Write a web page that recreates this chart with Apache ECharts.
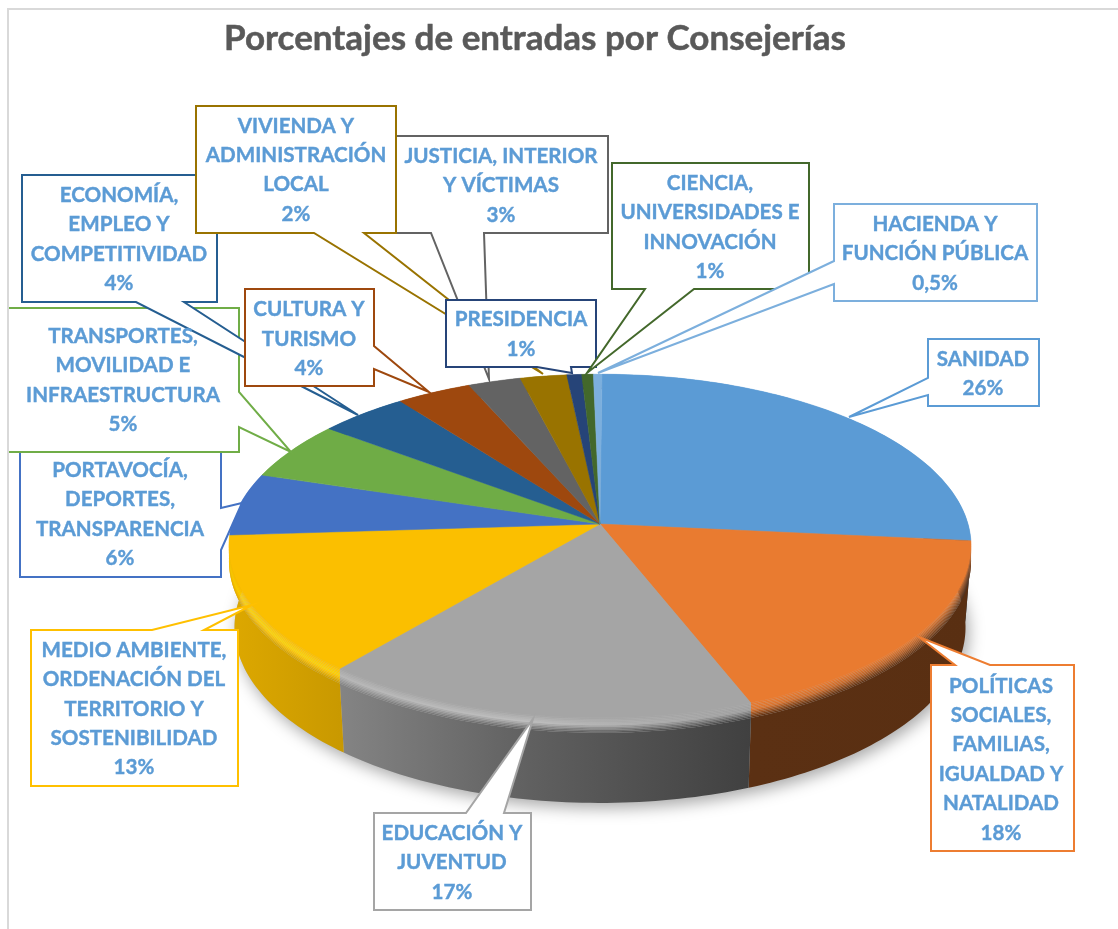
<!DOCTYPE html>
<html>
<head>
<meta charset="utf-8">
<style>html,body{margin:0;padding:0;background:#fff}#c{width:1118px;height:929px}</style>
<script src="https://cdn.jsdelivr.net/npm/echarts@6/dist/echarts.min.js"></script>
</head>
<body>
<div id="c"></div>
<script>
// ---- data ----
const titleText = 'Porcentajes de entradas por Consejerías';
const categories = ['SANIDAD','POLÍTICAS\nSOCIALES,\nFAMILIAS,\nIGUALDAD Y\nNATALIDAD','EDUCACIÓN Y\nJUVENTUD','MEDIO AMBIENTE,\nORDENACIÓN DEL\nTERRITORIO Y\nSOSTENIBILIDAD','PORTAVOCÍA,\nDEPORTES,\nTRANSPARENCIA','TRANSPORTES,\nMOVILIDAD E\nINFRAESTRUCTURA','ECONOMÍA,\nEMPLEO Y\nCOMPETITIVIDAD','CULTURA Y\nTURISMO','JUSTICIA, INTERIOR\nY VÍCTIMAS','VIVIENDA Y\nADMINISTRACIÓN\nLOCAL','PRESIDENCIA','CIENCIA,\nUNIVERSIDADES E\nINNOVACIÓN','HACIENDA Y\nFUNCIÓN PÚBLICA'];
const percentLabels = ['26%','18%','17%','13%','6%','5%','4%','4%','3%','2%','1%','1%','0,5%'];
const sliceShares = [26.5,17.6,16.9,13,5.9,5.55,4.4,3.7,2.6,2.3,0.73,0.57,0.42];

// ---- styles & layout ----
const sliceColors = ['#5B9BD5','#E97B30','#A5A5A5','#FBBF00','#4472C4','#6FAC46','#255E91','#9E480E','#636363','#997300','#264478','#43682B','#7CAFDD'];
const borderColors = ['#5B9BD5','#ED7D31','#A5A5A5','#FFC000','#4472C4','#70AD47','#255E91','#9E480E','#636363','#997300','#264478','#43682B','#7CAFDD'];
const calloutShapes = [
 [[928,339],[1039,339],[1039,406],[928,406],[928,395],[849,417],[928,378]],
 [[931,665],[955,665],[919,637],[990,665],[1074,665],[1074,851],[931,851]],
 [[374,813],[466,813],[533,719],[504,813],[531,813],[531,910],[374,910]],
 [[31,630],[152,630],[252,605],[204,630],[238,630],[238,786],[31,786]],
 [[20,447],[221,447],[221,508],[242,503],[221,550],[221,577],[20,577]],
 [[8,308],[239,308],[239,392],[291,452],[239,427],[239,452],[8,452]],
 [[22,175],[217,175],[217,302],[184,302],[358,415],[136,302],[22,302]],
 [[245,289],[374,289],[374,346],[429,392],[374,369],[374,386],[245,386]],
 [[394,136],[608,136],[608,233],[484,233],[489,379],[431,233],[394,233]],
 [[196,106],[396,106],[396,233],[364,233],[543,374],[314,233],[196,233]],
 [[446,300],[596,300],[596,367],[571,367],[572,373],[537,367],[446,367]],
 [[612,163],[809,163],[809,289],[694,289],[587,373],[645,289],[612,289]],
 [[834,204],[1037,204],[1037,301],[834,301],[834,284],[598,373],[834,261]]
];
const textCentres = [[983,374],[1001,759.5],[452,862.5],[134,709],[120,514.5],[123,380.5],[119,239.5],[309,339],[501,185.5],[296,170],[521,334.5],[710,227.5],[935,253.5]];

const CX = 600, CY = 524, RX = 368, RY = 169, P = 0.128;
const WALL_CY = 605, WALL_RX = 362.5, WALL_RY = 172.6, BEVEL = 15;
const total = sliceShares.reduce((a,b)=>a+b,0);
const TOP_ANGLE = 0.006;
const WALL_FROM = 1.2, WALL_TO = 4.95, WALL_SKIP = 4.6;

function proj(a, cy, rx, ry){
  const u = Math.sin(a), v = -Math.cos(a), w = 1 - P*v;
  return [CX + rx*u/w, cy + ry*v/w];
}
function arc(a0, a1, cy, rx, ry){
  const n = Math.max(2, Math.ceil(Math.abs(a1-a0)/0.02)), pts = [];
  for(let i=0;i<=n;i++) pts.push(proj(a0+(a1-a0)*i/n, cy, rx, ry));
  return pts;
}
function rgb(h){return [parseInt(h.slice(1,3),16),parseInt(h.slice(3,5),16),parseInt(h.slice(5,7),16)];}
function shade(h,f){const c=rgb(h).map(x=>Math.max(0,Math.min(255,Math.round(x*f))));return 'rgb('+c.join(',')+')';}
const XS=[230,340,530,752,975], WALLF=[0.88,0.80,0.58,0.39,0.38], HI=[1.12,1.1,1.15,0.95,0.7];
function gradient(stops){
  return {type:'linear',x:230,y:0,x2:975,y2:0,global:true,colorStops:stops.map((c,i)=>({offset:(XS[i]-230)/745,color:c}))};
}
function wallFill(c){return gradient(WALLF.map(f=>shade(c,f)));}
function bevelFill(c,t){
  return gradient(XS.map((_,i)=>{
    const f = t<0.45 ? 1+(HI[i]-1)*(t/0.45) : HI[i]+(WALLF[i]-HI[i])*((t-0.45)/0.55);
    return shade(c,f);
  }));
}

function renderSlice(params, api){
  const i = params.dataIndex, c = sliceColors[i];
  const a0 = TOP_ANGLE + api.value(1)/total*Math.PI*2;
  const a1 = a0 + api.value(0)/total*Math.PI*2;
  const ch = [];
  // side wall: only the part facing the viewer, the last slice runs on to the silhouette
  const w0 = Math.max(a0, WALL_FROM);
  const w1 = (a1 > WALL_SKIP && a1 < WALL_TO) ? WALL_TO : Math.min(a1, WALL_TO);
  if (w1 > w0 && a0 < WALL_SKIP){
    const wt = arc(w0,w1,CY+BEVEL,RX,RY), wb = arc(w1,w0,WALL_CY,WALL_RX,WALL_RY);
    ch.push({type:'polygon',z2:5,shape:{points:wt.concat(wb)},style:{fill:wallFill(c),stroke:null}});
  }
  // rounded bevel between wall and flat top
  const RINGS = 10;
  for(let r=RINGS;r>=1;r--){
    const t1=r/RINGS,t0=(r-1)/RINGS;
    const p1=arc(a0,a1,CY+BEVEL*t1,RX,RY), p0=arc(a1,a0,CY+BEVEL*t0,RX,RY);
    ch.push({type:'polygon',z2:20-r,shape:{points:p1.concat(p0)},style:{fill:bevelFill(c,(t0+t1)/2),stroke:null}});
  }
  // flat top
  ch.push({type:'polygon',z2:30,shape:{points:[[CX,CY]].concat(arc(a0,a1,CY,RX,RY))},style:{fill:c,stroke:c,lineWidth:0.5}});
  return {type:'group',children:ch};
}
function renderShadow(params, api){
  const pts = arc(0,Math.PI*2,WALL_CY,WALL_RX,WALL_RY);
  return {type:'polygon',shape:{points:pts},style:{fill:'#bbb',shadowColor:'rgba(0,0,0,0.35)',shadowBlur:16,shadowOffsetX:3,shadowOffsetY:5}};
}
function renderBox(params, api){
  const i = params.dataIndex;
  return {type:'polygon',shape:{points:calloutShapes[i]},style:{fill:'#fff',stroke:borderColors[i],lineWidth:2,lineJoin:'miter'}};
}
function renderText(params, api){
  const i = params.dataIndex, t = textCentres[i];
  return {type:'text',style:{x:t[0],y:t[1],text:categories[i]+'\n'+percentLabels[i],fill:'#5B9BD5',stroke:'#5B9BD5',lineWidth:0.4,
    font:'bold 20.6px Lato',fontFamily:'Lato',fontWeight:'bold',fontSize:20.6,lineHeight:29.4,align:'center',verticalAlign:'middle'}};
}
let cum = 0;
const pieData = sliceShares.map(v=>{const d=[v,cum];cum+=v;return d;});

const chart = echarts.init(document.getElementById('c'),null,{renderer:'canvas'});
chart.setOption({
  animation:false,
  backgroundColor:'#fff',
  title:{text:titleText,left:530,top:16,textAlign:'center',
    textStyle:{fontFamily:'Lato',fontWeight:'bold',fontSize:35,color:'#595959',textBorderColor:'#595959',textBorderWidth:0.5}},
  graphic:[{type:'rect',z:10,silent:true,shape:{x:8,y:9,width:1300,height:1100},style:{fill:'none',stroke:'#D9D9D9',lineWidth:2}}],
  series:[
    {type:'custom',coordinateSystem:'none',z:1,silent:true,data:[[1]],renderItem:renderShadow},
    {type:'custom',coordinateSystem:'none',z:2,silent:true,data:pieData,dimensions:['share','start'],renderItem:renderSlice},
    {type:'custom',coordinateSystem:'none',z:3,silent:true,data:pieData,renderItem:renderBox},
    {type:'custom',coordinateSystem:'none',z:4,silent:true,data:pieData,renderItem:renderText}
  ]
});
</script>
</body>
</html>
